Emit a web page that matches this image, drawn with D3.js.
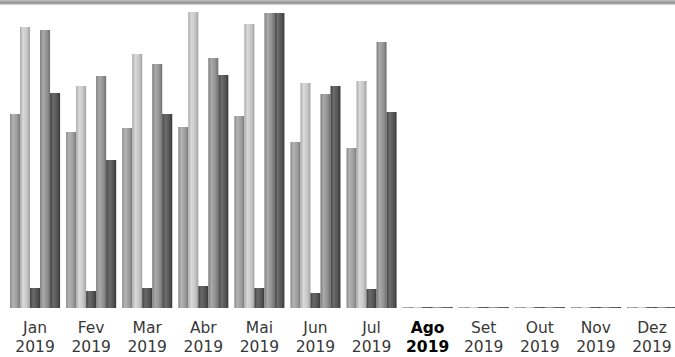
<!DOCTYPE html>
<html>
<head>
<meta charset="utf-8">
<script src="https://cdn.jsdelivr.net/npm/d3@7/dist/d3.min.js"></script>
<style>
html,body{margin:0;padding:0;background:#fff;}
svg{display:block;}
</style>
</head>
<body>
<svg id="chart" width="675" height="357"></svg>
<script>
const months = ["Jan","Fev","Mar","Abr","Mai","Jun","Jul","Ago","Set","Out","Nov","Dez"];
const year = "2019";
const highlightMonth = "Ago";
const seriesNames = ["S1","S2","S3","S4","S5"];
const s1 = [194,176,180,181,192,166,160,1,1,1,1,1];
const s2 = [281,222,254,296,284,225,227,1,1,1,1,1];
const s3 = [20,17,20,22,20,15,19,1,1,1,1,1];
const s4 = [278,232,244,250,295,214,266,1,1,1,1,1];
const s5 = [215,148,194,233,295,222,196,1,1,1,1,1];
const seriesValues = [s1,s2,s3,s4,s5];

const W = 675, H = 357;
const baseY = 308, topY = 12;
const svg = d3.select("#chart");

const colors = [
  ["#8a8a8a","#b4b4b4","#9c9c9c","#7a7a7a"],
  ["#a8a8a8","#dadada","#c6c6c6","#a0a0a0"],
  ["#3e3e3e","#6a6a6a","#555555","#3a3a3a"],
  ["#7c7c7c","#aaaaaa","#929292","#707070"],
  ["#404040","#6c6c6c","#565656","#383838"]
];
const defs = svg.append("defs");
colors.forEach((c,i)=>{
  const g = defs.append("linearGradient").attr("id","g"+i).attr("x1","0").attr("x2","1").attr("y1","0").attr("y2","0");
  g.append("stop").attr("offset","0%").attr("stop-color",c[0]);
  g.append("stop").attr("offset","30%").attr("stop-color",c[1]);
  g.append("stop").attr("offset","70%").attr("stop-color",c[2]);
  g.append("stop").attr("offset","100%").attr("stop-color",c[3]);
});
const tg = defs.append("linearGradient").attr("id","topband").attr("x1","0").attr("x2","0").attr("y1","0").attr("y2","1");
tg.append("stop").attr("offset","0%").attr("stop-color","#c4c4c4");
tg.append("stop").attr("offset","60%").attr("stop-color","#8e8e8e");
tg.append("stop").attr("offset","100%").attr("stop-color","#e6e6e6");
svg.append("rect").attr("x",0).attr("y",0).attr("width",W).attr("height",5).attr("fill","url(#topband)");

const x = d3.scaleBand().domain(months).range([7,680]).paddingInner(0.107).paddingOuter(0.0535);
const xs = d3.scaleBand().domain(seriesNames).range([0,x.bandwidth()]).padding(0);
const y = d3.scaleLinear().domain([0,296]).range([baseY,topY]);

const data = [];
months.forEach((m,i)=>{
  seriesNames.forEach((s,j)=>{
    data.push({m, s, j, v: seriesValues[j][i]});
  });
});

svg.append("g").selectAll("rect").data(data).join("rect")
  .attr("x", d => x(d.m) + xs(d.s))
  .attr("width", xs.bandwidth())
  .attr("y", d => y(d.v))
  .attr("height", d => baseY - y(d.v))
  .attr("fill", d => "url(#g"+d.j+")");

const axis = svg.append("g").attr("transform",`translate(0,${baseY})`)
  .call(d3.axisBottom(x).tickSize(0).tickPadding(0).tickFormat(""));
axis.select(".domain").remove();
axis.selectAll(".tick text").remove();
axis.selectAll(".tick").each(function(m){
  const t = d3.select(this).append("text")
    .attr("text-anchor","middle")
    .attr("font-family","'DejaVu Sans', Verdana, sans-serif")
    .attr("font-size","15.5px")
    .attr("font-weight", m===highlightMonth ? "bold" : "normal")
    .attr("fill", m===highlightMonth ? "#000" : "#383838");
  t.append("tspan").attr("x",0).attr("y",25).text(m);
  t.append("tspan").attr("x",0).attr("y",44).text(year);
});
</script>
</body>
</html>
